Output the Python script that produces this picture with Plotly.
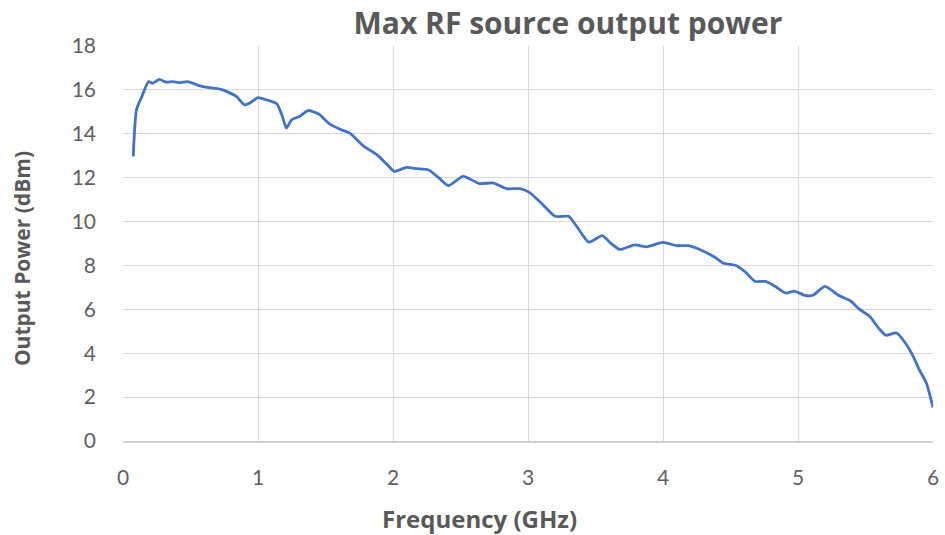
import plotly.graph_objects as go

freq_ghz = [0.076, 0.10, 0.14, 0.19, 0.22, 0.27, 0.32, 0.37, 0.42, 0.48, 0.57, 0.64, 0.72, 0.77,
            0.84, 0.90, 0.94, 1.00, 1.06, 1.14, 1.18, 1.21, 1.25, 1.31, 1.37, 1.45, 1.53, 1.61,
            1.68, 1.78, 1.88, 1.95, 2.01, 2.10, 2.17, 2.26, 2.34, 2.41, 2.52, 2.64, 2.74, 2.84,
            2.94, 3.01, 3.11, 3.20, 3.30, 3.36, 3.45, 3.55, 3.61, 3.68, 3.79, 3.88, 4.00, 4.10,
            4.19, 4.30, 4.39, 4.45, 4.54, 4.61, 4.68, 4.76, 4.83, 4.91, 4.97, 5.05, 5.11, 5.20,
            5.30, 5.39, 5.45, 5.53, 5.60, 5.65, 5.73, 5.79, 5.85, 5.90, 5.95, 6.00]
power_dbm = [12.97, 15.1, 15.7, 16.38, 16.3, 16.48, 16.35, 16.38, 16.33, 16.38, 16.18, 16.1, 16.03, 15.92,
             15.7, 15.32, 15.4, 15.65, 15.55, 15.36, 14.8, 14.26, 14.64, 14.8, 15.06, 14.9, 14.45, 14.2,
             14.03, 13.45, 13.05, 12.64, 12.29, 12.47, 12.41, 12.36, 11.99, 11.64, 12.06, 11.73, 11.76, 11.5,
             11.5, 11.33, 10.77, 10.24, 10.24, 9.79, 9.06, 9.36, 9.03, 8.73, 8.94, 8.85, 9.05, 8.9,
             8.9, 8.65, 8.35, 8.1, 8.0, 7.7, 7.28, 7.27, 7.05, 6.74, 6.83, 6.64, 6.64, 7.05,
             6.64, 6.38, 6.03, 5.68, 5.12, 4.82, 4.92, 4.51, 3.9, 3.23, 2.65, 1.53]

x_ticks = [0, 1, 2, 3, 4, 5, 6]
y_ticks = [0, 2, 4, 6, 8, 10, 12, 14, 16, 18]

chart_title = "Max RF source output power"
x_title = "Frequency (GHz)"
y_title = "Output Power (dBm)"

fig = go.Figure()
fig.add_trace(go.Scatter(x=freq_ghz, y=power_dbm, mode="lines",
                         line=dict(color="#4472C4", width=2.8, shape="spline", smoothing=0.6),
                         showlegend=False))

tick_font = "Lato, 'Open Sans', sans-serif"
title_font = "'Open Sans', Lato, sans-serif"
fig.update_layout(
    width=945, height=535,
    margin=dict(l=123, r=12, t=46, b=94),
    paper_bgcolor="white", plot_bgcolor="white",
    title=dict(text="<b>" + chart_title + "</b>", x=0.601, xanchor="center",
               y=0.957, yanchor="middle",
               font=dict(family=title_font, size=30, color="#595959")),
    font=dict(family=tick_font, color="#595959"),
)
fig.add_annotation(text="<b>" + x_title + "</b>", xref="paper", yref="paper",
                   x=0.4407, y=-0.195, xanchor="center", yanchor="middle", showarrow=False,
                   font=dict(family=title_font, size=24, color="#595959"))
fig.add_annotation(text="<b>" + y_title + "</b>", xref="paper", yref="paper",
                   x=-0.1247, y=0.463, xanchor="center", yanchor="middle", showarrow=False,
                   textangle=-90,
                   font=dict(family=title_font, size=21, color="#595959"))
fig.update_xaxes(range=[0, 6], tickvals=x_ticks, showgrid=True, gridcolor="#d9d9d9", gridwidth=1,
                 zeroline=False, showline=True, linecolor="#d0d0d0", linewidth=1.5,
                 automargin=False,
                 tickfont=dict(size=21, color="#5f5f5f"), ticklabelstandoff=17)
fig.update_yaxes(range=[0, 18], tickvals=y_ticks, showgrid=True, gridcolor="#d9d9d9", gridwidth=1,
                 zeroline=False, showline=False,
                 automargin=False,
                 tickfont=dict(size=21, color="#5f5f5f"), ticklabelstandoff=26)

fig.write_html("out.html", config={"displayModeBar": False},
               post_script="document.body.style.margin='0px';document.body.style.overflow='hidden';")
